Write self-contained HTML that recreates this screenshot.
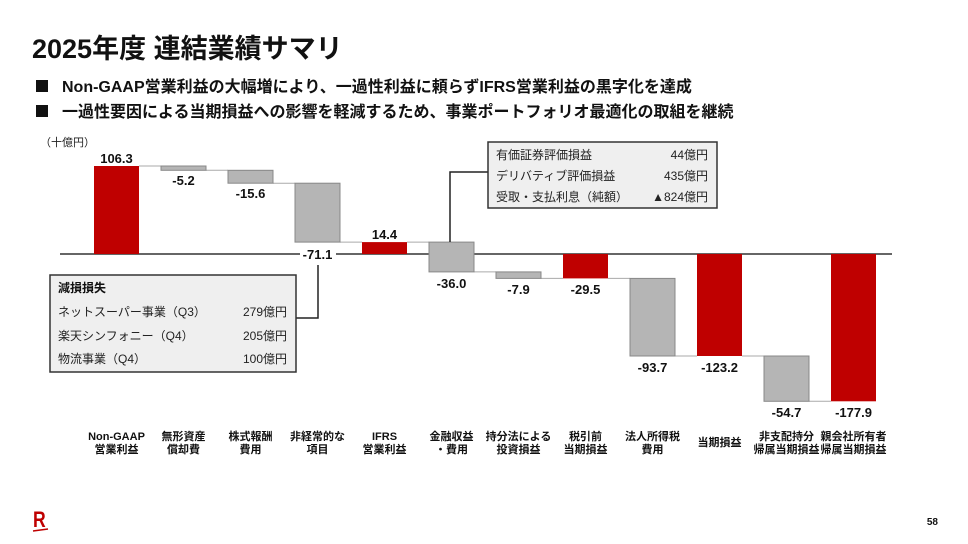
<!DOCTYPE html>
<html><head><meta charset="utf-8"><style>
body{margin:0;background:#fff;width:968px;height:544px;overflow:hidden;font-family:"Liberation Sans","Noto Sans CJK JP",sans-serif}
svg{display:block}
.v{font-weight:bold;font-size:13px;fill:#111;text-anchor:middle}
.c{font-weight:bold;font-size:11px;fill:#111;text-anchor:middle}
.b{font-size:12px;fill:#222}
</style></head><body>
<svg width="968" height="544" xmlns="http://www.w3.org/2000/svg" font-family="Liberation Sans, Noto Sans CJK JP, sans-serif">
<text x="32" y="58" font-size="27" font-weight="bold" fill="#111">2025年度 連結業績サマリ</text>
<rect x="36" y="80" width="12" height="12" fill="#111"/>
<text x="62" y="92" font-size="16" font-weight="bold" fill="#111">Non-GAAP営業利益の大幅増により、一過性利益に頼らずIFRS営業利益の黒字化を達成</text>
<rect x="36" y="105" width="12" height="12" fill="#111"/>
<text x="62" y="117" font-size="16" font-weight="bold" fill="#111">一過性要因による当期損益への影響を軽減するため、事業ポートフォリオ最適化の取組を継続</text>
<text x="40" y="146" font-size="11" fill="#222">（十億円）</text>

<line x1="60" y1="254" x2="892" y2="254" stroke="#333" stroke-width="1.5"/>
<g stroke="#aaa" stroke-width="1">
<line x1="139" y1="166" x2="161" y2="166"/>
<line x1="206" y1="170.3" x2="228" y2="170.3"/>
<line x1="273" y1="183.2" x2="295" y2="183.2"/>
<line x1="340" y1="242.1" x2="362" y2="242.1"/>
<line x1="407" y1="242.1" x2="429" y2="242.1"/>
<line x1="474" y1="271.9" x2="496" y2="271.9"/>
<line x1="541" y1="278.4" x2="563" y2="278.4"/>
<line x1="608" y1="278.4" x2="630" y2="278.4"/>
<line x1="675" y1="356" x2="697" y2="356"/>
<line x1="742" y1="356" x2="764" y2="356"/>
<line x1="809" y1="401.3" x2="831" y2="401.3"/>
</g>
<g stroke="#888" stroke-width="1" fill="#b5b5b5">
<rect x="161" y="166" width="45" height="4.3"/>
<rect x="228" y="170.3" width="45" height="12.9"/>
<rect x="295" y="183.2" width="45" height="58.9"/>
<rect x="429" y="242.1" width="45" height="29.8"/>
<rect x="496" y="271.9" width="45" height="6.5"/>
<rect x="630" y="278.4" width="45" height="77.6"/>
<rect x="764" y="356" width="45" height="45.3"/>
</g>
<g fill="#bf0000">
<rect x="94" y="166" width="45" height="88"/>
<rect x="362" y="242.1" width="45" height="11.9"/>
<rect x="563" y="254" width="45" height="24.4"/>
<rect x="697" y="254" width="45" height="102"/>
<rect x="831" y="254" width="45" height="147.3"/>
</g>
<text class="v" x="116.5" y="163">106.3</text>
<text class="v" x="183.5" y="185">-5.2</text>
<text class="v" x="250.5" y="198">-15.6</text>
<rect x="300" y="247" width="36" height="14" fill="#fff"/>
<text class="v" x="317.5" y="259">-71.1</text>
<text class="v" x="384.5" y="239">14.4</text>
<text class="v" x="451.5" y="288">-36.0</text>
<text class="v" x="518.5" y="294">-7.9</text>
<text class="v" x="585.5" y="294">-29.5</text>
<text class="v" x="652.5" y="372">-93.7</text>
<text class="v" x="719.5" y="372">-123.2</text>
<text class="v" x="786.5" y="417">-54.7</text>
<text class="v" x="853.5" y="417">-177.9</text>

<polyline points="296,318 318,318 318,265" fill="none" stroke="#222" stroke-width="1.5"/>
<rect x="50" y="275" width="246" height="97" fill="#efefef" stroke="#333" stroke-width="1.5"/>
<text x="58" y="292" font-size="12" font-weight="bold" fill="#111">減損損失</text>
<text class="b" x="58" y="316">ネットスーパー事業（Q3）</text><text class="b" x="287" y="316" text-anchor="end">279億円</text>
<text class="b" x="58" y="340">楽天シンフォニー（Q4）</text><text class="b" x="287" y="340" text-anchor="end">205億円</text>
<text class="b" x="58" y="363">物流事業（Q4）</text><text class="b" x="287" y="363" text-anchor="end">100億円</text>

<polyline points="488,172 450,172 450,242" fill="none" stroke="#222" stroke-width="1.5"/>
<rect x="488" y="142" width="229" height="66" fill="#efefef" stroke="#333" stroke-width="1.5"/>
<text class="b" x="496" y="159">有価証券評価損益</text><text class="b" x="708" y="159" text-anchor="end">44億円</text>
<text class="b" x="496" y="180">デリバティブ評価損益</text><text class="b" x="708" y="180" text-anchor="end">435億円</text>
<text class="b" x="496" y="201">受取・支払利息（純額）</text><text class="b" x="708" y="201" text-anchor="end">▲824億円</text>

<g>
<text class="c" x="116.5" y="440">Non-GAAP</text><text class="c" x="116.5" y="453">営業利益</text>
<text class="c" x="183.5" y="440">無形資産</text><text class="c" x="183.5" y="453">償却費</text>
<text class="c" x="250.5" y="440">株式報酬</text><text class="c" x="250.5" y="453">費用</text>
<text class="c" x="317.5" y="440">非経常的な</text><text class="c" x="317.5" y="453">項目</text>
<text class="c" x="384.5" y="440">IFRS</text><text class="c" x="384.5" y="453">営業利益</text>
<text class="c" x="451.5" y="440">金融収益</text><text class="c" x="451.5" y="453">・費用</text>
<text class="c" x="518.5" y="440">持分法による</text><text class="c" x="518.5" y="453">投資損益</text>
<text class="c" x="585.5" y="440">税引前</text><text class="c" x="585.5" y="453">当期損益</text>
<text class="c" x="652.5" y="440">法人所得税</text><text class="c" x="652.5" y="453">費用</text>
<text class="c" x="719.5" y="446">当期損益</text>
<text class="c" x="786.5" y="440">非支配持分</text><text class="c" x="786.5" y="453">帰属当期損益</text>
<text class="c" x="853.5" y="440">親会社所有者</text><text class="c" x="853.5" y="453">帰属当期損益</text>
</g>
<text x="33" y="527" font-size="22" font-weight="bold" fill="#bf0000" transform="translate(33 0) scale(0.8 1) translate(-33 0)">R</text>
<line x1="33" y1="531" x2="48" y2="529" stroke="#bf0000" stroke-width="1.5"/>
<text x="938" y="525" font-size="10" font-weight="bold" fill="#111" text-anchor="end">58</text>
</svg>
</body></html>
